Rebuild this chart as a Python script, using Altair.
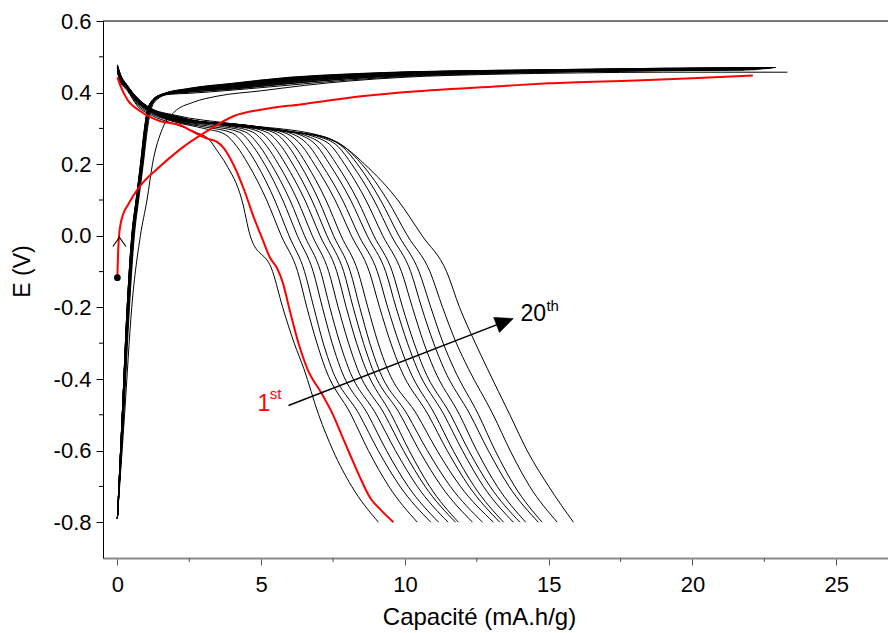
import altair as alt
import pandas as pd

# ---------------- axes ----------------
X_TICKS = [0, 5, 10, 15, 20, 25]
X_MINOR = [2.5, 7.5, 12.5, 17.5, 22.5]
Y_TICKS = [-0.8, -0.6, -0.4, -0.2, 0.0, 0.2, 0.4, 0.6]
Y_MINOR = [-0.7, -0.5, -0.3, -0.1, 0.1, 0.3, 0.5]

# ---------------- cycle 1 (red) ----------------
red_dis_x = [0, 0.1, 0.35, 0.8, 1.5, 2.19, 2.64, 3.1, 3.45, 3.7, 4.03, 4.4, 4.75, 5.05, 5.3,
             5.55, 5.75, 6.0, 6.3, 6.6, 7.1, 7.5, 7.8, 8.1, 8.4, 8.8, 9.15, 9.6]
red_dis_v = [0.443, 0.42, 0.38, 0.348, 0.32, 0.309, 0.29, 0.272, 0.263, 0.245, 0.2, 0.13, 0.05,
             -0.01, -0.06, -0.09, -0.13, -0.21, -0.3, -0.37, -0.44, -0.5, -0.557, -0.613,
             -0.668, -0.733, -0.765, -0.8]
red_ch_x = [0, 0.02, 0.07, 0.2, 0.35, 0.8, 1.39, 2.19, 3.13, 4.03, 5.2, 6.37, 8.0, 9.84,
            13.3, 15.0, 18.0, 20.0, 22.1]
red_ch_v = [-0.117, -0.06, 0.01, 0.06, 0.084, 0.14, 0.187, 0.242, 0.293, 0.334, 0.355, 0.367,
            0.385, 0.40, 0.418, 0.426, 0.434, 0.44, 0.448]

# ---------------- discharge, cycles 2..20 ----------------
DIS_HEAD_X = [0, 0.1, 0.35, 0.7, 1.15, 2.0]
dis_v0 = [0.455, 0.46, 0.462, 0.458, 0.465, 0.463, 0.468, 0.466, 0.47, 0.468, 0.472, 0.47,
          0.474, 0.471, 0.475, 0.473, 0.476, 0.474, 0.478]
dis_v01 = [0.43, 0.435, 0.437, 0.433, 0.44, 0.438, 0.443, 0.441, 0.445, 0.443, 0.447, 0.445,
           0.449, 0.446, 0.45, 0.448, 0.451, 0.449, 0.453]
dis_v035 = [0.405, 0.408, 0.41, 0.409, 0.412, 0.411, 0.414, 0.413, 0.415, 0.414, 0.416, 0.415,
            0.417, 0.416, 0.418, 0.417, 0.419, 0.418, 0.42]
dis_v07 = [0.362, 0.366, 0.37, 0.372, 0.374, 0.375, 0.377, 0.377, 0.379, 0.379, 0.381, 0.381,
           0.382, 0.382, 0.383, 0.383, 0.384, 0.384, 0.385]
dis_v115 = [0.338, 0.342, 0.345, 0.347, 0.348, 0.349, 0.35, 0.351, 0.352, 0.352, 0.353, 0.353,
            0.354, 0.354, 0.355, 0.355, 0.356, 0.356, 0.357]
dis_v2 = [0.312, 0.318, 0.32, 0.321, 0.322, 0.323, 0.324, 0.325, 0.326, 0.327, 0.328, 0.329,
          0.33, 0.331, 0.332, 0.333, 0.334, 0.335, 0.337]
dis_mid_x = [2.7, 3.0, 3.1, 3.3, 3.5, 3.7, 3.9, 4.1, 4.3, 4.5, 4.7, 4.9, 5.1, 5.3, 5.5, 5.7,
             5.9, 6.0, 4.0]
dis_mid_v = [0.29, 0.3, 0.303, 0.305, 0.307, 0.308, 0.309, 0.309, 0.308, 0.307, 0.306, 0.304,
             0.302, 0.3, 0.297, 0.294, 0.291, 0.29, 0.313]
dis_knee_x = [3.2, 3.75, 4.0, 4.25, 4.45, 4.7, 4.95, 5.2, 5.45, 5.65, 5.9, 6.1, 6.35, 6.55,
              6.8, 7.0, 7.15, 7.2, 7.1]
dis_knee_v = [0.268, 0.283, 0.287, 0.289, 0.29, 0.29, 0.29, 0.289, 0.288, 0.287, 0.285, 0.284,
              0.282, 0.28, 0.278, 0.277, 0.276, 0.276, 0.279]
dis_knee2_x = [3.45, 4.15, 4.45, 4.72, 4.95, 5.2, 5.45, 5.7, 5.95, 6.17, 6.43, 6.68, 6.95, 7.18,
               7.45, 7.68, 7.85, 7.95, 8.0]
dis_knee2_v = [0.24, 0.25, 0.25, 0.25, 0.25, 0.25, 0.25, 0.25, 0.25, 0.25, 0.25, 0.25, 0.25,
               0.25, 0.25, 0.249, 0.247, 0.245, 0.242]
DIS_DROP_V = [0.2, 0.1, 0.0, -0.1, -0.2, -0.3, -0.37, -0.5, -0.6, -0.7, -0.8]
dis_drop_x = [
    [3.78, 4.33, 4.62, 5.4, 5.75, 6.15, 6.48, 7.0, 7.5, 8.15, 9.08],
    [4.55, 5.19, 5.70, 6.27, 6.59, 6.94, 7.23, 8.13, 8.73, 9.44, 10.43],
    [4.85, 5.47, 5.97, 6.51, 6.83, 7.16, 7.45, 8.42, 9.07, 9.83, 10.9],
    [5.12, 5.75, 6.26, 6.81, 7.13, 7.47, 7.76, 8.72, 9.36, 10.11, 11.17],
    [5.35, 6.0, 6.51, 7.07, 7.39, 7.74, 8.04, 9.01, 9.67, 10.43, 11.5],
    [5.6, 6.26, 6.78, 7.35, 7.68, 8.04, 8.34, 9.30, 9.95, 10.70, 11.76],
    [5.85, 6.52, 7.05, 7.63, 7.96, 8.32, 8.63, 9.53, 10.15, 10.86, 11.86],
    [6.1, 6.76, 7.29, 7.87, 8.2, 8.56, 8.86, 9.84, 10.5, 11.27, 12.35],
    [6.35, 7.0, 7.52, 8.1, 8.43, 8.78, 9.08, 10.09, 10.78, 11.58, 12.7],
    [6.58, 7.25, 7.78, 8.37, 8.71, 9.07, 9.38, 10.42, 11.12, 11.93, 13.08],
    [6.85, 7.57, 8.14, 8.76, 9.12, 9.51, 9.84, 10.81, 11.47, 12.23, 13.3],
    [7.1, 7.83, 8.4, 9.04, 9.4, 9.8, 10.13, 11.05, 11.68, 12.41, 13.43],
    [7.38, 8.11, 8.69, 9.33, 9.69, 10.09, 10.42, 11.36, 12.0, 12.73, 13.77],
    [7.62, 8.35, 8.92, 9.56, 9.92, 10.32, 10.65, 11.59, 12.22, 12.96, 14.0],
    [7.9, 8.64, 9.23, 9.88, 10.26, 10.66, 11.0, 11.9, 12.5, 13.21, 14.2],
    [8.15, 8.92, 9.53, 10.2, 10.58, 11.0, 11.35, 12.27, 12.9, 13.62, 14.64],
    [8.35, 9.15, 9.79, 10.49, 10.9, 11.33, 11.7, 12.56, 13.14, 13.82, 14.77],
    [8.5, 9.39, 10.09, 10.87, 11.31, 11.79, 12.2, 13.07, 13.66, 14.34, 15.3],
    [8.6, 9.75, 10.6, 11.45, 11.9, 12.45, 12.86, 13.65, 14.25, 15.0, 15.86],
]

# ---------------- charge, cycle 2 (outlier) ----------------
c2_ch_x = [0, 0.25, 0.5, 0.8, 1.03, 1.22, 1.57, 1.97, 2.64, 3.47, 5.0, 6.5, 8.0, 10.0, 13.0,
           16.0, 19.0, 21.0, 23.3]
c2_ch_v = [-0.79, -0.5, -0.2, 0.0, 0.1, 0.2, 0.3, 0.345, 0.373, 0.39, 0.405, 0.42, 0.432, 0.443,
           0.451, 0.455, 0.457, 0.457, 0.457]

# ---------------- charge, cycles 3..20 ----------------
CH_RISE_V = [-0.79, -0.5, -0.2, 0.0, 0.1, 0.2, 0.3, 0.35, 0.38, 0.395]
ch_rise_x = [
    [0, 0.22, 0.42, 0.59, 0.74, 0.9, 1.05, 1.16, 1.37, 1.78],
    [0, 0.19, 0.39, 0.56, 0.71, 0.87, 1.01, 1.12, 1.32, 1.7],
    [0, 0.21, 0.4, 0.57, 0.72, 0.88, 1.02, 1.13, 1.33, 1.7],
    [0, 0.17, 0.36, 0.53, 0.68, 0.84, 0.98, 1.09, 1.29, 1.65],
    [0, 0.2, 0.39, 0.56, 0.71, 0.87, 1.01, 1.11, 1.3, 1.66],
    [0, 0.17, 0.35, 0.52, 0.67, 0.83, 0.97, 1.08, 1.27, 1.62],
    [0, 0.2, 0.38, 0.55, 0.7, 0.86, 1.0, 1.1, 1.29, 1.63],
    [0, 0.17, 0.35, 0.52, 0.67, 0.83, 0.97, 1.07, 1.26, 1.59],
    [0, 0.2, 0.38, 0.55, 0.7, 0.85, 0.99, 1.09, 1.28, 1.61],
    [0, 0.17, 0.35, 0.51, 0.66, 0.82, 0.96, 1.06, 1.25, 1.57],
    [0, 0.2, 0.38, 0.54, 0.69, 0.85, 0.99, 1.09, 1.28, 1.6],
    [0, 0.17, 0.34, 0.51, 0.66, 0.82, 0.96, 1.06, 1.24, 1.56],
    [0, 0.2, 0.37, 0.54, 0.69, 0.84, 0.98, 1.08, 1.27, 1.59],
    [0, 0.17, 0.34, 0.51, 0.66, 0.81, 0.95, 1.05, 1.24, 1.55],
    [0, 0.2, 0.37, 0.53, 0.68, 0.84, 0.98, 1.08, 1.26, 1.58],
    [0, 0.17, 0.34, 0.5, 0.65, 0.81, 0.95, 1.05, 1.23, 1.54],
    [0, 0.2, 0.37, 0.53, 0.68, 0.83, 0.97, 1.07, 1.26, 1.57],
    [0, 0.17, 0.34, 0.5, 0.65, 0.8, 0.94, 1.04, 1.23, 1.54],
]
CH_PLAT_X = [2.5, 4, 6, 8, 10, 13, 16, 19]
ch_plat_v = [
    [0.398, 0.407, 0.421, 0.435, 0.445, 0.453, 0.458, 0.461],
    [0.402, 0.41, 0.425, 0.438, 0.447, 0.455, 0.459, 0.462],
    [0.401, 0.41, 0.426, 0.439, 0.448, 0.455, 0.459, 0.462],
    [0.404, 0.412, 0.428, 0.441, 0.449, 0.456, 0.46, 0.463],
    [0.405, 0.413, 0.43, 0.442, 0.45, 0.456, 0.46, 0.463],
    [0.405, 0.414, 0.431, 0.443, 0.451, 0.457, 0.461, 0.464],
    [0.406, 0.415, 0.432, 0.444, 0.451, 0.457, 0.461, 0.464],
    [0.406, 0.416, 0.433, 0.445, 0.452, 0.458, 0.462, 0.465],
    [0.407, 0.417, 0.434, 0.446, 0.453, 0.458, 0.462, 0.465],
    [0.407, 0.418, 0.435, 0.446, 0.453, 0.459, 0.462, 0.465],
    [0.408, 0.419, 0.436, 0.447, 0.454, 0.459, 0.463, 0.466],
    [0.408, 0.42, 0.437, 0.448, 0.455, 0.46, 0.463, 0.466],
    [0.409, 0.421, 0.438, 0.448, 0.455, 0.46, 0.463, 0.466],
    [0.409, 0.422, 0.439, 0.449, 0.456, 0.46, 0.464, 0.467],
    [0.41, 0.423, 0.44, 0.45, 0.456, 0.461, 0.464, 0.467],
    [0.41, 0.424, 0.441, 0.45, 0.457, 0.461, 0.464, 0.467],
    [0.411, 0.425, 0.442, 0.451, 0.457, 0.462, 0.465, 0.468],
    [0.412, 0.426, 0.443, 0.452, 0.458, 0.462, 0.465, 0.468],
]
ch_end_x = [21.8, 22.0, 22.2, 21.9, 22.3, 22.4, 22.1, 22.5, 22.6, 22.35, 22.65, 22.7, 22.45,
            22.75, 22.8, 22.55, 22.85, 22.9]
ch_end_v = [0.463, 0.464, 0.464, 0.465, 0.465, 0.466, 0.466, 0.467, 0.467, 0.467, 0.468, 0.468,
            0.468, 0.469, 0.469, 0.469, 0.47, 0.47]

# ---------------- annotations ----------------
arrow_x = [5.95, 13.5]
arrow_v = [-0.474, -0.239]
arrow_tip = (13.77, -0.231)
start_dot = (0.0, -0.117)
chevron = (0.07, -0.004)

# ---------------- build tables ----------------
rows = []


def add(curve, xs, vs):
    for i, (x, v) in enumerate(zip(xs, vs)):
        rows.append({"curve": curve, "i": i, "x": x, "v": v})


for j in range(19):
    heads_v = [dis_v0[j], dis_v01[j], dis_v035[j], dis_v07[j], dis_v115[j], dis_v2[j]]
    xs = DIS_HEAD_X + [dis_mid_x[j], dis_knee_x[j], dis_knee2_x[j]] + dis_drop_x[j]
    vs = heads_v + [dis_mid_v[j], dis_knee_v[j], dis_knee2_v[j]] + DIS_DROP_V
    add(f"d{j + 2}", xs, vs)

add("c2", c2_ch_x, c2_ch_v)
for j in range(18):
    xs = ch_rise_x[j] + CH_PLAT_X + [ch_end_x[j]]
    vs = CH_RISE_V + ch_plat_v[j] + [ch_end_v[j]]
    add(f"c{j + 3}", xs, vs)

black = pd.DataFrame(rows)
rows = []
add("d1", red_dis_x, red_dis_v)
add("c1", red_ch_x, red_ch_v)
red = pd.DataFrame(rows)

W, H = 785, 537
FONT = "Liberation Sans"

xscale = alt.Scale(domain=[-0.5, 26.8], nice=False, zero=False)
yscale = alt.Scale(domain=[-0.9, 0.6], nice=False, zero=False)

xaxis = alt.Axis(values=X_TICKS, title="Capacité (mA.h/g)", grid=False, tickSize=7,
                 tickColor="#555555", domainColor="#8a8a8a", domainWidth=2,
                 labelFontSize=22, labelPadding=9, labelColor="black",
                 titleFontSize=24, titleFontWeight="normal", titleColor="black",
                 titleX=376, titleY=66, titleBaseline="alphabetic", titleAlign="center")
yaxis = alt.Axis(values=Y_TICKS, title="E (V)", grid=False, tickSize=7, tickColor="black",
                 domainColor="black", domainWidth=1,
                 labelExpr="datum.value < 0 ? '-' + format(-datum.value, '.1f') : format(datum.value, '.1f')",
                 labelFontSize=22, labelPadding=5, labelColor="black",
                 titleFontSize=23, titleFontWeight="normal", titleColor="black",
                 titleX=-74, titleY=250, titleAngle=270, titleBaseline="alphabetic",
                 titleAlign="center")

lines_black = alt.Chart(black).mark_line(color="black", strokeWidth=1,
                                         interpolate="monotone").encode(
    x=alt.X("x:Q", scale=xscale, axis=xaxis),
    y=alt.Y("v:Q", scale=yscale, axis=yaxis),
    detail="curve:N",
    order="i:Q",
)
lines_red = alt.Chart(red).mark_line(color="#ff0000", strokeWidth=2,
                                     interpolate="monotone").encode(
    x="x:Q", y="v:Q", detail="curve:N", order="i:Q")

arrow_df = pd.DataFrame({"x": arrow_x, "v": arrow_v})
arrow_line = alt.Chart(arrow_df).mark_line(color="black", strokeWidth=1.4).encode(x="x:Q", y="v:Q")
head_df = pd.DataFrame({"x": [arrow_tip[0]], "v": [arrow_tip[1]]})
arrow_head = alt.Chart(head_df).mark_point(
    shape="M 0 0 L -2 -0.9 L -2 0.9 Z", filled=True, fill="black", stroke="black",
    strokeWidth=0.5, size=324, angle=339, opacity=1).encode(x="x:Q", y="v:Q")

dot_df = pd.DataFrame({"x": [start_dot[0]], "v": [start_dot[1]]})
dot = alt.Chart(dot_df).mark_point(shape="circle", filled=True, color="black", size=45,
                                   opacity=1).encode(x="x:Q", y="v:Q")
chev_df = pd.DataFrame({"x": [chevron[0]], "v": [chevron[1]]})
chev = alt.Chart(chev_df).mark_point(shape="M -0.7 1 L 0 0 L 0.7 1", filled=False,
                                     stroke="black", strokeWidth=1.1, size=346,
                                     opacity=1).encode(x="x:Q", y="v:Q")


def label(txt, x, v, size, color):
    df = pd.DataFrame({"x": [x], "v": [v], "t": [txt]})
    return alt.Chart(df).mark_text(align="left", baseline="alphabetic", fontSize=size,
                                   color=color, font=FONT).encode(x="x:Q", y="v:Q", text="t:N")


lab1 = label("1", 4.87, -0.49, 23, "#ff0000")
lab1s = label("st", 5.3, -0.455, 15, "#ff0000")
lab20 = label("20", 14.02, -0.237, 23, "black")
lab20s = label("th", 14.92, -0.21, 15, "black")

ymin_df = pd.DataFrame({"v": Y_MINOR})
y_minor = alt.Chart(ymin_df).mark_rule(color="black", strokeWidth=1).encode(
    y="v:Q", x=alt.value(-4), x2=alt.value(0))
xmin_df = pd.DataFrame({"x": X_MINOR})
x_minor = alt.Chart(xmin_df).mark_rule(color="#555555", strokeWidth=1).encode(
    x="x:Q", y=alt.value(H), y2=alt.value(H + 4))
top_line = alt.Chart(pd.DataFrame({"a": [0]})).mark_rule(color="black", strokeWidth=1).encode(
    x=alt.value(0), x2=alt.value(W), y=alt.value(0))

chart = alt.layer(
    lines_black, lines_red, arrow_line, arrow_head, dot, chev,
    lab1, lab1s, lab20, lab20s, y_minor, x_minor, top_line,
).properties(
    width=W, height=H,
    autosize=alt.AutoSizeParams(type="none"),
    padding={"left": 95, "top": 13, "right": 0, "bottom": 76},
).configure_view(strokeWidth=0).configure(font=FONT)

chart.save("out.html", embed_options={"renderer": "svg", "actions": False})
